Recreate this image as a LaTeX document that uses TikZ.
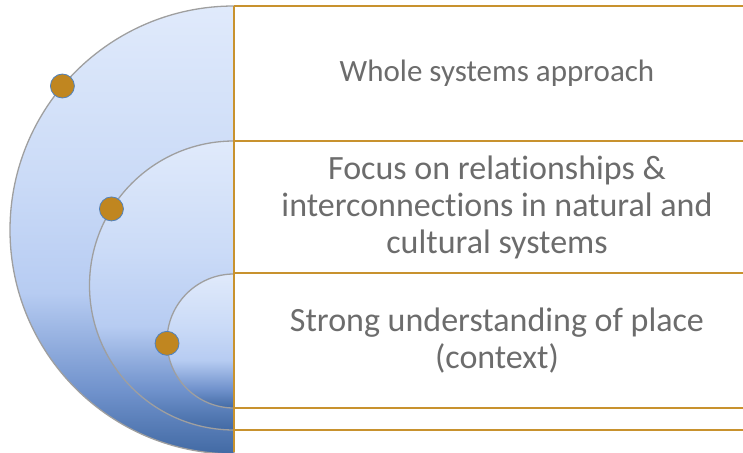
\documentclass[tikz,border=0pt]{standalone}
\usepackage{fontspec}
\setmainfont{Carlito}[Ligatures=NoCommon]
\usetikzlibrary{calc}
\definecolor{gold}{RGB}{200,146,46}
\definecolor{dotgold}{RGB}{192,134,32}
\definecolor{dotrim}{RGB}{79,129,189}
\definecolor{disctop}{RGB}{224,234,251}
\definecolor{discup}{RGB}{203,219,247}
\definecolor{disclow}{RGB}{183,204,242}
\definecolor{discdeep}{RGB}{112,146,204}
\definecolor{discbot}{RGB}{66,106,164}
\definecolor{txtgray}{RGB}{108,108,108}
% the path box spans 25bp..75bp of the shading
\pgfdeclareverticalshading{discshade}{100bp}{color(0bp)=(discbot); color(25bp)=(discbot); color(32bp)=(discdeep); color(43bp)=(disclow); color(56bp)=(discup); color(75bp)=(disctop); color(100bp)=(disctop)}
\tikzset{
	halfdisc/.style={draw=gray!75, line width=1.3pt, shading=discshade},
	goldline/.style={draw=gold, line width=1.3pt},
	dot/.style={circle, fill=dotgold, draw=dotrim, line width=0.8pt, minimum size=24pt, inner sep=0pt},
	blocktext/.style={align=center, text=txtgray, font=\fontsize{34}{37}\selectfont},
}

\begin{document}
\begin{tikzpicture}[x=1pt, y=1pt]
	\useasboundingbox (0,0) rectangle (743,452);
	
	% centres of the three half discs
	\coordinate (c1) at (234,222);
	\coordinate (c2) at (234,166.5);
	\coordinate (c3) at (234,111);
	
	\path[halfdisc] ($(c1)+(0,224)$) arc[start angle=90, end angle=270, radius=224pt] -- cycle;
	\path[halfdisc] ($(c2)+(0,144.5)$) arc[start angle=90, end angle=270, radius=144.5pt] -- cycle;
	\path[halfdisc] ($(c3)+(0,67)$) arc[start angle=90, end angle=270, radius=67pt] -- cycle;
	
	% separators
	\coordinate (t1) at (234,446);
	\coordinate (t2) at (234,311);
	\coordinate (t3) at (234,179);
	\coordinate (t4) at (234,44);
	\coordinate (t5) at (234,22);
	\coordinate (b0) at (234,0);
	\coordinate (e1) at (743,446);
	\coordinate (e2) at (743,311);
	\coordinate (e3) at (743,179);
	\coordinate (e4) at (743,44);
	\coordinate (e5) at (743,22);
	\draw[goldline] (t1) -- (b0);
	\foreach \i in {1,...,5}
		\draw[goldline] (t\i) -- (e\i);
	
	\node[dot] (d1) at ($(c1)+(140:224pt)$) {};
	\node[dot] (d2) at ($(c2)+(148:144.5pt)$) {};
	\node[dot] (d3) at ($(c3)+(182:67pt)$) {};
	
	\node[blocktext, font=\fontsize{31}{37}\selectfont] (l1) at (497,378.5) {Whole systems approach};
	\node[blocktext] (l2) at (497,245) {Focus on relationships \&\\interconnections in natural and\\cultural systems};
	\node[blocktext] (l3) at (497,111.5) {Strong understanding of place\\(context)};
\end{tikzpicture}
\end{document}
